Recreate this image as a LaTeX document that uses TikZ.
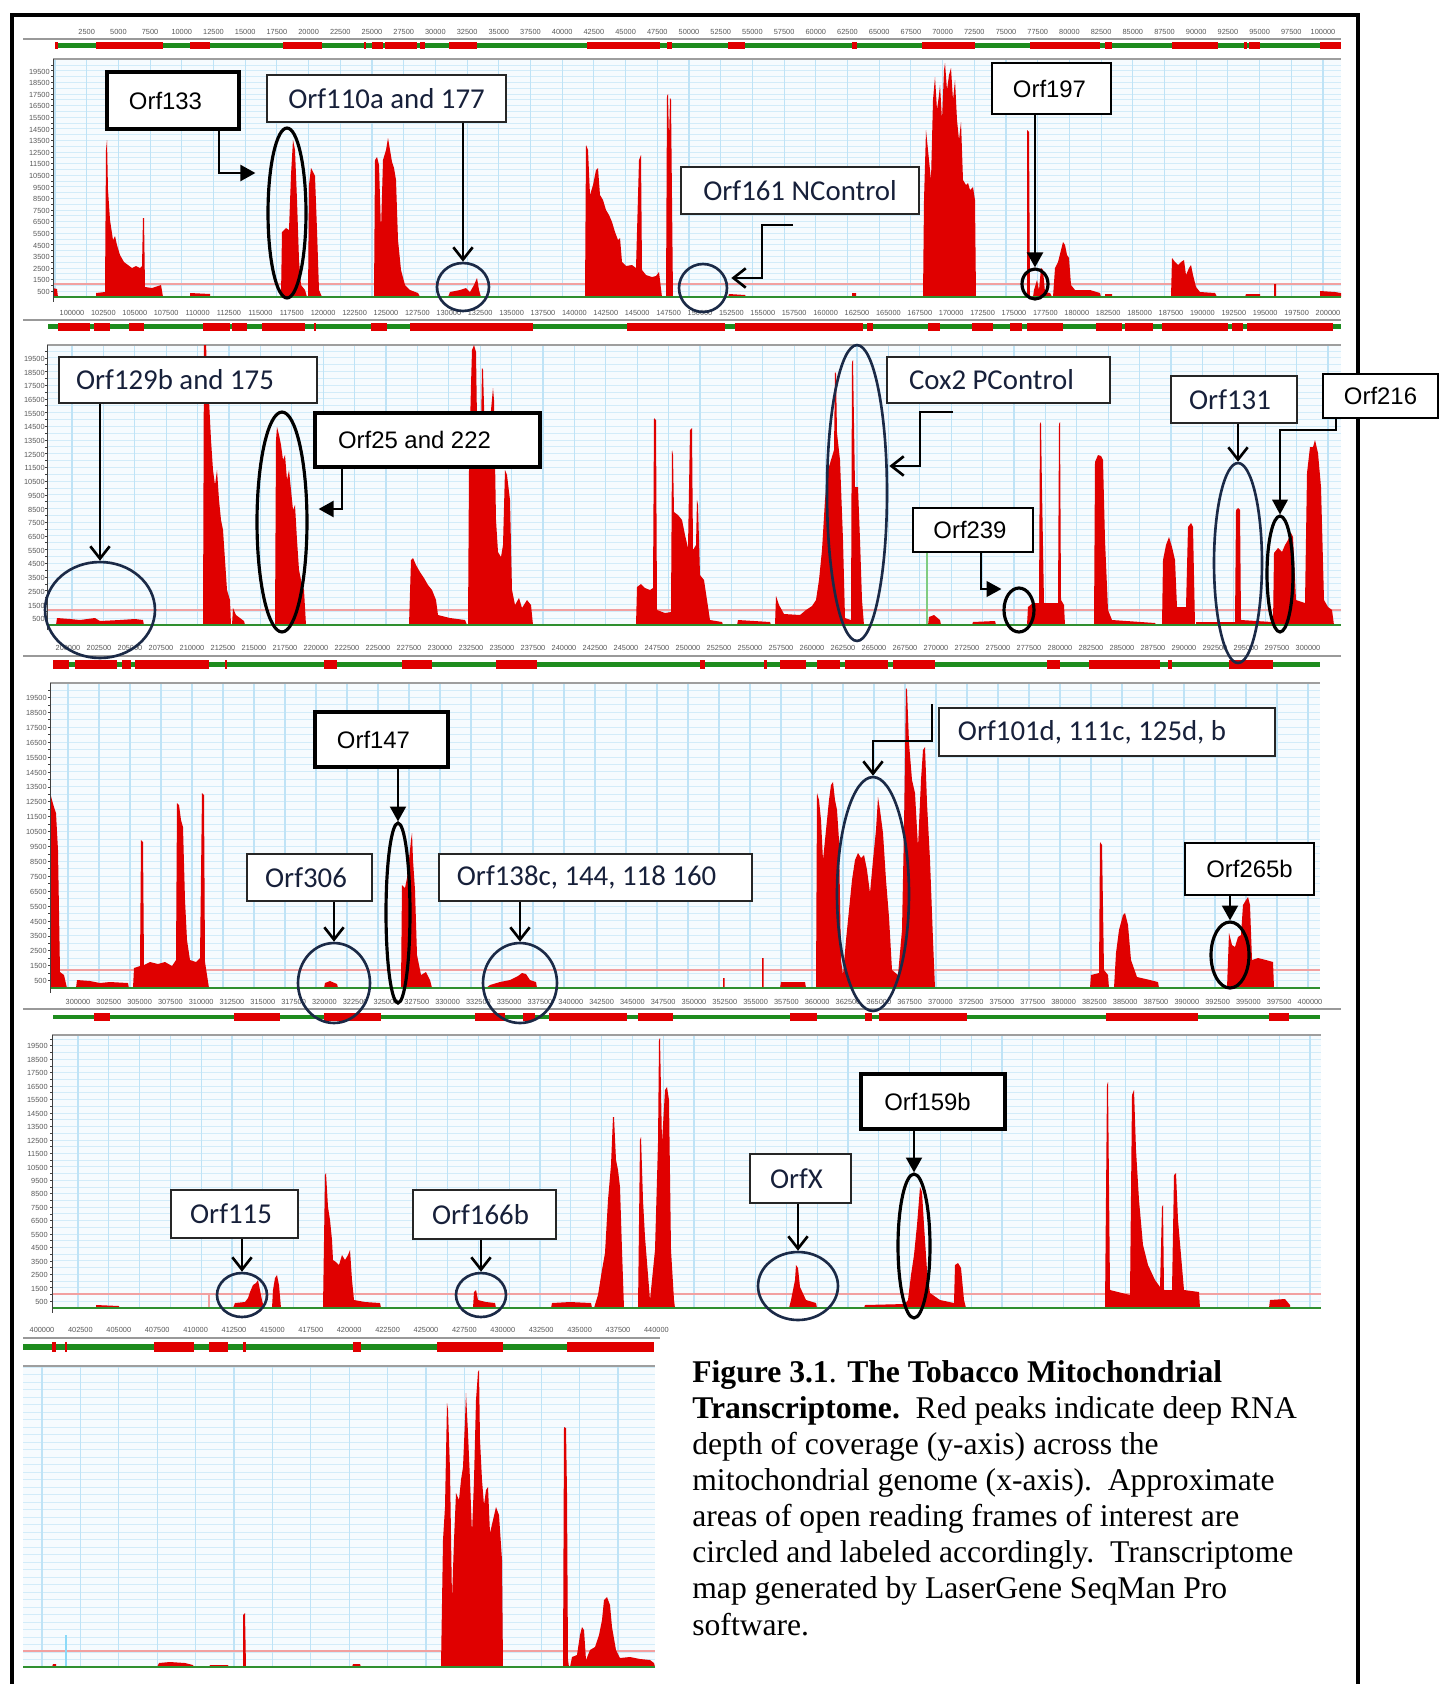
\documentclass[tikz,border=0pt]{standalone}
\usepackage{fontspec}
\setmainfont{Liberation Serif}
\newfontfamily\fArial{Liberation Sans}
\newfontfamily\fCal{Carlito}
\usetikzlibrary{shapes.geometric,arrows.meta,calc}
\newdimen\pxu \pxu=0.02cm
\newcommand{\lft}[2]{#2\hspace*{#1\pxu}\hspace*{#1\pxu}}
\definecolor{pkred}{HTML}{E00000}
\definecolor{navyc}{HTML}{1B2A47}
\definecolor{ctext}{HTML}{17203A}
\definecolor{bargreen}{HTML}{1E8C1E}
\definecolor{basegreen}{HTML}{2F8F2F}
\definecolor{hgridc}{HTML}{D3ECF9}
\definecolor{vgridc}{HTML}{BFE3F6}
\definecolor{chartbgc}{HTML}{F6FBFE}
\definecolor{threshc}{HTML}{F2A0A0}
\tikzset{
  pk/.style={fill=pkred},
  hgrid/.style={draw=hgridc, line width=0.55pt},
  vgrid/.style={draw=vgridc, line width=0.6pt},
  ruler/.style={draw=black!40, line width=1.1pt},
  tk/.style={font=\fArial\fontsize{4.2}{5}\selectfont, text=black!65, inner sep=0pt},
  sz/.style 2 args={minimum width=#1*0.02cm, minimum height=#2*0.02cm},
  el/.style 2 args={ellipse, minimum width=#1*0.04cm, minimum height=#2*0.04cm, inner sep=0pt},
  bxA/.style={draw=black, line width=#1, fill=white, inner sep=0pt, font=\fArial\fontsize{13.6}{16}\selectfont},
  bxC/.style={draw=black!85, line width=0.9pt, fill=white, inner sep=0pt, text=ctext, font=\fCal\fontsize{16.4}{19}\selectfont},
  ovk/.style={draw=black, line width=1.8pt},
  ovn/.style={draw=navyc, line width=1.5pt},
  conn/.style={draw=black, line width=1.5pt},
  tipT/.style={-{Triangle[length=8.5pt,width=9pt]}},
  tipV/.style={-{Straight Barb[length=7pt,width=11pt]}},
  captxt/.style={anchor=base west, inner sep=0pt, font=\fontsize{18}{21.7}\selectfont}
}
% x0 y0 x1 base hstep red vstart vstep
\newcommand{\panelbg}[8]{%
  \fill[chartbgc] (#1,#2) rectangle (#3,#4);
  \begin{scope}
    \clip (#1,#2) rectangle (#3,#4);
    \foreach \i in {1,...,41} \draw[hgrid] (#1,{#4-#5*\i}) -- (#3,{#4-#5*\i});
    \foreach \k in {0,...,41} \draw[vgrid] ({#7+#8*\k},#2) -- ({#7+#8*\k},#4);
  \end{scope}
  \draw[draw=black!38, line width=1.1pt] (#1,#2) -- (#3,#2);
  \draw[draw=threshc, line width=0.7pt] (#1,#6) -- (#3,#6);
}
\newcommand{\panelaxis}[4]{%
  \draw[draw=basegreen, line width=1pt] (#1,#3) -- (#2,#3);
}
\newcommand{\yaxis}[5]{% x0 y0 base step xlabel
  \draw[draw=black!75, line width=0.5pt] (#1,#2) -- (#1,{#3+5});
  \foreach \i in {1,...,40} \draw[draw=black!75, line width=0.4pt] (#1,{#3-#4*\i/2}) -- ({#1-2.5},{#3-#4*\i/2});
}
\begin{document}
\begin{tikzpicture}[x=0.02cm,y=-0.02cm]
\useasboundingbox (0,0) rectangle (1440,1684);
\fill[white] (0,0) rectangle (1440,1684);

% ---------------- Panel 1 ----------------
\panelbg{53}{59}{1341}{297}{5.8}{284}{55}{31.7}
\def\BL{297}
\begin{scope}
\clip (53,59) rectangle (1341,298);
\fill[pk] (53,\BL)--(53,288)--(57,289)--(58,\BL)--cycle
(96,\BL)--(96,293)--(105,292)--(106,150)--(107,140)--(108,190)--(110,220)--(113,240)--(115,236)--(117,245)--(120,255)--(124,262)--(128,265)--(132,268)--(136,266)--(140,268)--(142,266)--(143,218)--(144,218)--(145,287)--(152,288)--(158,286)--(161,285)--(163,\BL)--cycle
(190,\BL)--(190,293)--(210,294)--(210,\BL)--cycle
(281,\BL)--(282,232)--(286,228)--(289,230)--(291,175)--(293,140)--(295,150)--(297,200)--(299,260)--(301,285)--(305,290)--(307,\BL)--cycle
(308,\BL)--(309,185)--(311,168)--(313,172)--(315,176)--(317,230)--(319,290)--(322,\BL)--cycle
(374,\BL)--(375,160)--(377,157)--(379,165)--(381,230)--(383,160)--(386,150)--(388,138)--(390,150)--(392,162)--(394,168)--(396,180)--(398,240)--(401,270)--(405,285)--(410,290)--(418,293)--(420,\BL)--cycle
(448,\BL)--(450,292)--(460,290)--(466,288)--(470,292)--(474,285)--(477,278)--(479,290)--(481,\BL)--cycle
(585,\BL)--(586,145)--(588,150)--(590,195)--(593,185)--(596,170)--(598,168)--(600,195)--(603,200)--(606,210)--(609,215)--(612,222)--(615,232)--(618,240)--(620,238)--(622,262)--(626,266)--(632,265)--(636,268)--(639,160)--(641,155)--(642,270)--(646,275)--(652,277)--(656,276)--(659,272)--(662,\BL)--cycle
(666,\BL)--(667,96)--(668,94)--(669,140)--(670,98)--(671,100)--(673,\BL)--cycle
(728,\BL)--(729,294)--(745,295)--(746,\BL)--cycle
(852,\BL)--(852,293)--(856,293)--(856,\BL)--cycle
(923,\BL)--(924,200)--(926,130)--(928,150)--(931,180)--(933,100)--(935,77)--(937,110)--(939,95)--(940,85)--(942,120)--(944,70)--(945,63)--(947,90)--(949,75)--(951,68)--(953,100)--(955,80)--(957,120)--(959,140)--(961,122)--(963,180)--(966,185)--(968,183)--(970,190)--(973,187)--(975,200)--(976,\BL)--cycle
(1027,\BL)--(1027,130)--(1029,132)--(1030,\BL)--cycle
(1033,\BL)--(1034,290)--(1037,280)--(1039,290)--(1041,268)--(1043,270)--(1045,292)--(1050,293)--(1052,\BL)--cycle
(1053,\BL)--(1055,268)--(1058,262)--(1061,250)--(1063,242)--(1065,245)--(1067,255)--(1069,258)--(1071,285)--(1075,290)--(1090,290)--(1100,293)--(1101,\BL)--cycle
(1105,\BL)--(1105,294)--(1112,294)--(1112,\BL)--cycle
(1171,\BL)--(1172,258)--(1175,262)--(1178,265)--(1181,262)--(1184,260)--(1186,275)--(1189,268)--(1191,265)--(1193,275)--(1196,287)--(1200,292)--(1215,293)--(1217,\BL)--cycle
(1245,\BL)--(1246,294)--(1260,294)--(1260,\BL)--cycle
(1274,\BL)--(1274,284)--(1276,284)--(1276,\BL)--cycle
(1320,\BL)--(1320,291)--(1335,292)--(1341,293)--(1341,\BL)--cycle;
\end{scope}
\panelaxis{53}{1341}{297}{59}
\yaxis{53}{59}{297}{11.6}{50}
\foreach \k in {0,...,19} \node[tk, anchor=east] (ya\k) at (50,{297.8-11.6*(\k+0.5)}) {\the\numexpr500+1000*\k\relax};

% ---------------- Panel 2 ----------------
\panelbg{47}{345}{1341}{625}{6.85}{610}{72}{31.4}
\def\BL{625}
\begin{scope}
\clip (47,345) rectangle (1341,626);
\fill[pk] (56,\BL)--(57,618)--(70,619)--(80,620)--(95,618)--(100,621)--(120,620)--(135,619)--(143,620)--(144,\BL)--cycle
(203,\BL)--(204,340)--(206,340)--(207,380)--(209,400)--(211,440)--(213,470)--(215,485)--(217,470)--(219,500)--(221,520)--(223,530)--(225,560)--(227,590)--(230,600)--(231,\BL)--cycle
(232,\BL)--(233,608)--(236,615)--(244,621)--(245,\BL)--cycle
(275,\BL)--(276,440)--(277,427)--(279,435)--(281,445)--(283,460)--(285,455)--(287,480)--(289,470)--(291,490)--(293,510)--(295,505)--(297,540)--(299,570)--(302,585)--(304,590)--(306,\BL)--cycle
(409,\BL)--(411,560)--(413,558)--(416,565)--(420,572)--(424,578)--(428,585)--(432,590)--(436,600)--(438,615)--(450,618)--(465,620)--(467,\BL)--cycle
(468,\BL)--(469,470)--(471,385)--(472,350)--(474,345)--(476,352)--(477,420)--(479,440)--(481,430)--(482,368)--(483,370)--(485,440)--(487,470)--(489,440)--(491,410)--(493,388)--(494,400)--(496,520)--(498,552)--(501,557)--(503,545)--(505,470)--(507,475)--(510,500)--(512,590)--(515,605)--(519,598)--(522,608)--(527,600)--(531,605)--(533,\BL)--cycle
(636,\BL)--(637,587)--(641,584)--(645,588)--(650,590)--(653,588)--(654,418)--(656,420)--(657,610)--(665,613)--(671,612)--(672,450)--(673,455)--(674,512)--(678,515)--(682,520)--(685,535)--(688,548)--(690,430)--(692,428)--(693,550)--(696,545)--(697,500)--(698,505)--(700,575)--(704,580)--(707,600)--(710,620)--(722,622)--(723,\BL)--cycle
(737,\BL)--(738,620)--(770,622)--(771,\BL)--cycle
(775,\BL)--(776,596)--(779,605)--(784,614)--(800,615)--(806,610)--(812,606)--(816,600)--(819,580)--(822,550)--(825,500)--(828,470)--(831,460)--(834,450)--(835,372)--(836,374)--(837,433)--(840,460)--(843,540)--(845,618)--(851,620)--(852,362)--(853,360)--(855,487)--(858,487)--(860,540)--(862,600)--(864,\BL)--cycle
(928,\BL)--(929,617)--(934,615)--(940,620)--(941,\BL)--cycle
(972,\BL)--(973,622)--(995,621)--(996,\BL)--cycle
(1027,\BL)--(1028,607)--(1033,603)--(1039,603)--(1040,422)--(1041,424)--(1042,490)--(1044,603)--(1058,603)--(1059,424)--(1060,422)--(1061,600)--(1064,605)--(1065,\BL)--cycle
(1094,\BL)--(1095,462)--(1098,455)--(1101,456)--(1103,460)--(1105,540)--(1108,610)--(1112,620)--(1155,623)--(1156,\BL)--cycle
(1162,\BL)--(1163,560)--(1166,545)--(1169,537)--(1172,547)--(1175,560)--(1177,607)--(1186,607)--(1188,527)--(1191,523)--(1193,527)--(1195,\BL)--cycle
(1196,\BL)--(1196,622)--(1235,622)--(1236,510)--(1238,508)--(1240,510)--(1241,620)--(1272,622)--(1273,\BL)--cycle
(1273,\BL)--(1274,553)--(1278,548)--(1282,552)--(1285,545)--(1288,540)--(1291,533)--(1293,537)--(1296,600)--(1305,603)--(1307,473)--(1310,447)--(1313,447)--(1315,440)--(1318,453)--(1321,487)--(1324,600)--(1328,607)--(1332,610)--(1334,\BL)--cycle;
\end{scope}
\draw[draw=green!60!black!50, line width=0.6pt] (927,553) -- (927,625);
\panelaxis{47}{1341}{625}{345}
\yaxis{47}{345}{625}{13.7}{45}
\foreach \k in {0,...,19} \node[tk, anchor=east] (yb\k) at (45,{626-13.7*(\k+0.5)}) {\the\numexpr500+1000*\k\relax};

% ---------------- Panel 3 ----------------
\panelbg{50}{683}{1320}{988}{7.45}{970}{68}{31}
\def\BL{988}
\begin{scope}
\clip (50,683) rectangle (1320,989);
\fill[pk] (50,\BL)--(50,792)--(52,800)--(54,807)--(56,813)--(58,850)--(60,972)--(64,975)--(67,\BL)--cycle
(76,\BL)--(77,980)--(90,981)--(100,983)--(110,982)--(128,983)--(129,\BL)--cycle
(133,\BL)--(134,968)--(140,966)--(141,840)--(143,842)--(144,965)--(150,962)--(158,964)--(165,962)--(172,966)--(176,960)--(177,803)--(179,805)--(181,820)--(183,827)--(185,900)--(187,940)--(190,960)--(196,962)--(200,958)--(202,793)--(204,795)--(205,962)--(209,\BL)--cycle
(324,\BL)--(325,983)--(330,981)--(337,984)--(338,\BL)--cycle
(401,\BL)--(402,885)--(405,888)--(407,878)--(409,860)--(411,840)--(412,833)--(413,860)--(415,890)--(417,955)--(421,975)--(426,972)--(430,980)--(432,\BL)--cycle
(486,\BL)--(490,985)--(500,982)--(510,980)--(518,976)--(522,973)--(526,974)--(530,980)--(536,982)--(537,\BL)--cycle
(723,\BL)--(723,978)--(724.5,978)--(724.5,\BL)--cycle
(762,\BL)--(762,958)--(763.5,958)--(763.5,\BL)--cycle
(780,\BL)--(781,982)--(805,982)--(806,\BL)--cycle
(816,\BL)--(817,793)--(819,800)--(821,820)--(823,860)--(826,830)--(829,800)--(831,785)--(833,782)--(835,800)--(837,810)--(839,840)--(841,960)--(843,975)--(846,940)--(849,910)--(852,880)--(855,860)--(858,853)--(861,858)--(864,855)--(867,870)--(870,893)--(873,860)--(876,830)--(878,797)--(880,810)--(883,833)--(886,880)--(889,917)--(892,970)--(898,975)--(902,930)--(904,827)--(906,688)--(907,690)--(909,743)--(912,780)--(915,793)--(918,847)--(921,780)--(923,750)--(925,747)--(927,803)--(930,860)--(933,940)--(935,\BL)--cycle
(1090,\BL)--(1091,975)--(1099,973)--(1100,842)--(1102,845)--(1104,970)--(1108,975)--(1109,\BL)--cycle
(1114,\BL)--(1116,953)--(1119,930)--(1123,915)--(1125,913)--(1128,925)--(1131,960)--(1137,977)--(1150,980)--(1158,982)--(1159,\BL)--cycle
(1227,\BL)--(1229,933)--(1232,945)--(1235,947)--(1238,937)--(1241,935)--(1243,905)--(1246,900)--(1248,897)--(1250,905)--(1252,960)--(1258,958)--(1266,960)--(1273,962)--(1274,\BL)--cycle;
\end{scope}
\panelaxis{50}{1320}{988}{683}
\yaxis{50}{683}{988}{14.9}{47}
\foreach \k in {0,...,19} \node[tk, anchor=east] (yc\k) at (47,{988.5-14.9*(\k+0.5)}) {\the\numexpr500+1000*\k\relax};

% ---------------- Panel 4 ----------------
\panelbg{52}{1035}{1321}{1308}{6.72}{1294}{78}{30.8}
\def\BL{1308}
\begin{scope}
\clip (52,1035) rectangle (1321,1309);
\fill[pk] (96,\BL)--(96,1305)--(119,1306)--(119,\BL)--cycle
(233,\BL)--(235,1303)--(245,1302)--(248,1298)--(250,1292)--(253,1285)--(256,1283)--(258,1280)--(260,1290)--(262,1300)--(264,\BL)--cycle
(272,\BL)--(273,1290)--(275,1278)--(277,1275)--(279,1285)--(281,\BL)--cycle
(323,\BL)--(325,1175)--(326,1173)--(328,1207)--(330,1220)--(332,1240)--(333,1260)--(336,1262)--(339,1265)--(342,1255)--(345,1260)--(348,1255)--(350,1250)--(352,1280)--(354,1300)--(365,1302)--(380,1303)--(381,\BL)--cycle
(473,\BL)--(474,1292)--(476,1290)--(478,1300)--(486,1302)--(495,1303)--(496,\BL)--cycle
(551,\BL)--(552,1303)--(570,1302)--(591,1303)--(592,\BL)--cycle
(594,\BL)--(598,1295)--(602,1270)--(605,1253)--(608,1200)--(611,1165)--(613,1117)--(614,1117)--(616,1160)--(618,1170)--(620,1187)--(622,1250)--(624,\BL)--cycle
(638,\BL)--(640,1140)--(641,1137)--(643,1200)--(645,1237)--(650,1300)--(655,1250)--(658,1143)--(659,1040)--(660,1038)--(662,1143)--(665,1090)--(667,1087)--(669,1100)--(671,1250)--(674,1300)--(675,\BL)--cycle
(789,\BL)--(791,1300)--(795,1280)--(796,1265)--(798,1268)--(800,1287)--(806,1300)--(816,1303)--(817,\BL)--cycle
(864,\BL)--(865,1305)--(905,1304)--(908,1300)--(911,1275)--(914,1255)--(917,1225)--(919,1200)--(920,1187)--(922,1192)--(924,1225)--(927,1270)--(930,1293)--(940,1300)--(954,1303)--(955,1265)--(958,1263)--(961,1268)--(964,1300)--(966,\BL)--cycle
(1105,\BL)--(1107,1085)--(1108,1082)--(1110,1290)--(1130,1295)--(1132,1095)--(1134,1090)--(1136,1150)--(1139,1200)--(1143,1245)--(1148,1265)--(1155,1280)--(1160,1287)--(1162,1207)--(1163,1205)--(1164,1290)--(1172,1290)--(1174,1175)--(1176,1173)--(1178,1220)--(1181,1255)--(1184,1290)--(1199,1292)--(1200,\BL)--cycle
(1269,\BL)--(1270,1300)--(1285,1299)--(1290,1305)--(1290,\BL)--cycle;
\end{scope}
\draw[draw=threshc, line width=0.7pt] (209,1294) -- (209,1308);
\panelaxis{52}{1321}{1308}{1035}
\yaxis{52}{1035}{1308}{13.45}{47}
\foreach \k in {0,...,19} \node[tk, anchor=east] (yd\k) at (48,{1308.7-13.45*(\k+0.5)}) {\the\numexpr500+1000*\k\relax};

% ---------------- Panel 5 ----------------
\panelbg{23}{1366}{655}{1667}{7.5}{1651}{42}{38.4}
\def\BL{1667}
\begin{scope}
\clip (23,1366) rectangle (655,1668);
\fill[pk] (52,\BL)--(53,1664)--(56,1664)--(56,\BL)--cycle
(157,\BL)--(159,1663)--(170,1662)--(185,1663)--(193,1665)--(194,\BL)--cycle
(209,\BL)--(210,1665)--(228,1665)--(229,\BL)--cycle
(243,\BL)--(243,1615)--(245,1613)--(246,\BL)--cycle
(352,\BL)--(353,1664)--(360,1664)--(361,\BL)--cycle
(441,\BL)--(443,1540)--(445,1507)--(447,1403)--(448,1410)--(450,1470)--(452,1600)--(454,1540)--(456,1493)--(459,1500)--(461,1480)--(463,1467)--(465,1420)--(466,1393)--(468,1433)--(470,1480)--(472,1533)--(474,1480)--(476,1400)--(478,1372)--(479,1370)--(480,1440)--(482,1480)--(484,1505)--(486,1490)--(488,1487)--(490,1533)--(493,1520)--(496,1507)--(499,1515)--(502,1560)--(503,\BL)--cycle
(563,\BL)--(564,1427)--(566,1428)--(567,1493)--(568,1660)--(569,\BL)--cycle
(570,\BL)--(572,1657)--(577,1655)--(580,1635)--(582,1627)--(584,1630)--(586,1660)--(590,1650)--(595,1647)--(599,1635)--(602,1620)--(604,1600)--(607,1597)--(610,1605)--(612,1627)--(616,1650)--(620,1658)--(630,1657)--(640,1659)--(650,1660)--(654,1663)--(655,\BL)--cycle;
\end{scope}
\draw[draw=cyan!45, line width=0.8pt] (66,1635) -- (66,1667);
\panelaxis{23}{655}{1667}{1366}

% ---------------- Rulers and feature bars ----------------
\draw[ruler] (23,39) -- (1341,39);
\draw[ruler] (23,320) -- (1341,320);
\draw[ruler] (23,656) -- (1341,656);
\draw[ruler] (23,1009) -- (1341,1009);
\draw[ruler] (23,1338) -- (660,1338);

\fill[bargreen] (55,43) rectangle (1341,47.5);
\foreach \p/\q in {55/58,96/163,190/210,283/322,364/366,372/383,385/417,420/425,449/477,587/660,667/672,728/745,852/857,922/975,1030/1100,1105/1112,1172/1218,1244/1247,1249/1260,1320/1341}
  \fill[pkred] (\p,42) rectangle (\q,49);
\fill[bargreen] (48,324) rectangle (1341,329);
\foreach \p/\q in {58/90,94/110,129/144,203/230,232/247,262/305,314/316,371/387,410/533,627/725,735/863,867/873,928/940,972/993,1010/1022,1027/1063,1096/1122,1125/1153,1162/1228,1232/1243,1247/1333}
  \fill[pkred] (\p,323) rectangle (\q,331);
\fill[bargreen] (53,662) rectangle (1320,667);
\foreach \p/\q in {53/69,75/117,122/131,135/209,225/227,324/337,402/432,496/537,700/705,764/767,780/806,817/840,845/888,893/935,1047/1060,1089/1160,1168/1172,1229/1273}
  \fill[pkred] (\p,660) rectangle (\q,669);
\fill[bargreen] (53,1015) rectangle (1320,1019);
\foreach \p/\q in {94/110,234/280,324/381,475/505,523/535,549/627,638/673,790/817,865/872,879/967,1106/1198,1269/1289}
  \fill[pkred] (\p,1013) rectangle (\q,1021);
\fill[bargreen] (23,1344) rectangle (654,1350);
\foreach \p/\q in {52/56,65/67,154/194,209/228,243/246,353/361,437/503,567/654}
  \fill[pkred] (\p,1342) rectangle (\q,1352);

% ruler labels
\foreach \k in {1,...,40} \node[tk] (ra\k) at ({55+31.7*\k},32) {\the\numexpr2500*\k\relax};
\foreach \k in {0,...,40} \node[tk] (rb\k) at ({72+31.4*\k},313) {\the\numexpr100000+2500*\k\relax};
\foreach \k in {0,...,40} \node[tk] (rc\k) at ({68+31*\k},648) {\the\numexpr200000+2500*\k\relax};
\foreach \k in {0,...,40} \node[tk] (rd\k) at ({78+30.8*\k},1002) {\the\numexpr300000+2500*\k\relax};
\foreach \k in {0,...,16} \node[tk] (re\k) at ({42+38.4*\k},1330) {\the\numexpr400000+2500*\k\relax};

% ---------------- Frame ----------------
\draw[line width=2.3pt] (12,1700) -- (12,15) -- (1358,15) -- (1358,1700);

% ---------------- Ellipses ----------------
\node[ovk, el={19}{85}] (e1) at (287,213) {};
\node[ovn, el={26}{24}] (e2) at (463,287) {};
\node[ovn, el={24}{24}] (e3) at (703,288) {};
\node[ovk, el={13}{15}] (e4) at (1035,284) {};
\node[ovn, el={55}{48}] (e5) at (100,610) {};
\node[ovk, el={25}{110}] (e6) at (282,522) {};
\node[ovn, el={30}{148}] (e7) at (857,493) {};
\node[ovk, el={15}{22}] (e8) at (1019,610) {};
\node[ovn, el={24}{100}] (e9) at (1238,563) {};
\node[ovk, el={13}{58}] (e10) at (1280,574) {};
\node[ovk, el={12}{90}] (e11) at (398,913) {};
\node[ovn, el={36}{40}] (e12) at (334,983) {};
\node[ovn, el={37}{40}] (e13) at (520,983) {};
\node[ovn, el={36}{117}] (e14) at (873,894) {};
\node[ovk, el={19}{33}] (e15) at (1230,955) {};
\node[ovn, el={25}{22}] (e16) at (242,1295) {};
\node[ovn, el={25}{22}] (e17) at (481,1295) {};
\node[ovn, el={40}{34}] (e18) at (798,1286) {};
\node[ovk, el={16}{72}] (e19) at (914,1246) {};

% ---------------- Label boxes ----------------
\node[bxA=1.9pt, sz={132}{57}] (b1) at (173,100.5) {\lft{7.5}{Orf133}};
\node[bxC, sz={239}{47}] (b2) at (386.5,98.5) {Orf110a and 177};
\node[bxC, sz={238}{47}] (b3) at (800,190.5) {Orf161 NControl};
\node[bxA=1.4pt, sz={119}{51}] (b4) at (1051.5,88.5) {\lft{2}{Orf197}};
\node[bxC, sz={258}{46}] (b5) at (188,380) {\lft{13}{Orf129b and 175}};
\node[bxA=1.9pt, sz={225}{54}] (b6) at (427.5,440) {\lft{13}{Orf25 and 222}};
\node[bxC, sz={223}{46}] (b7) at (998.5,380) {\lft{7}{Cox2 PControl}};
\node[bxA=1.2pt, sz={120}{44}] (b8) at (973,530) {\lft{3}{Orf239}};
\node[bxC, sz={126}{47}] (b9) at (1234,399.5) {\lft{4}{Orf131}};
\node[bxA=1.4pt, sz={115}{44}] (b10) at (1380.5,396) {Orf216};
\node[bxA=2.1pt, sz={133}{55}] (b11) at (381.5,739.5) {\lft{8}{Orf147}};
\node[bxC, sz={125}{47}] (b12) at (309.5,877.5) {\lft{3.5}{Orf306}};
\node[bxC, sz={313}{47}] (b13) at (595.5,877.5) {\lft{9}{Orf138c, 144, 118 160}};
\node[bxC, sz={336}{48}] (b14) at (1107,732) {\lft{15}{Orf101d, 111c, 125d, b}};
\node[bxA=1.2pt, sz={129}{52}] (b15) at (1249.5,869) {Orf265b};
\node[bxC, sz={127}{48}] (b16) at (234.5,1214) {\lft{3.5}{Orf115}};
\node[bxC, sz={143}{49}] (b17) at (484.5,1214.5) {\lft{4}{Orf166b}};
\node[bxC, sz={101}{49}] (b18) at (800.5,1178.5) {\lft{4}{OrfX}};
\node[bxA=2.1pt, sz={144}{55}] (b19) at (933,1101.5) {\lft{5.5}{Orf159b}};

% ---------------- Connectors ----------------
\coordinate (k3) at (793,225);
\coordinate (k7) at (953,412);
\coordinate (k14) at (932,704);
\draw[conn, tipT] ($(b1.south)+(46,0)$) |- ($(e1.west)+(-11,-40)$);
\draw[conn, tipV] (b2.south -| e2.north) -- (e2.north);
\draw[conn, tipV] (k3) -- ++(-31,0) |- ($(e3.east)+(3,-10)$);
\draw[conn, tipT] (b4.south -| e4.north) -- (e4.north);
\draw[conn, tipV] (b5.south -| e5.north) -- (e5.north);
\draw[conn, tipT] ($(b6.south)+(-85.5,0)$) |- ($(e6.east)+(10,-13)$);
\draw[conn, tipV] (k7) -- ++(-33,0) |- ($(e7.east)+(1,-27)$);
\draw[conn, line width=1.1pt, tipT] ($(b8.south)+(8,0)$) |- ($(e8.west)+(-1,-21)$);
\draw[conn, tipV] (b9.south -| e9.north) -- (e9.north);
\draw[conn, line width=0.9pt, tipT] ($(b10.south)+(-44.5,0)$) -- ++(0,11) -| (e10.north);
\draw[conn, tipT] (b11.south -| e11.north) -- (e11.north);
\draw[conn, tipV] (b12.south -| e12.north) -- (e12.north);
\draw[conn, tipV] (b13.south -| e13.north) -- (e13.north);
\draw[conn, tipV] (k14) -- ++(0,37) -| (e14.north);
\draw[conn, tipT] (b15.south -| e15.north) -- (e15.north);
\draw[conn, tipV] (b16.south -| e16.north) -- (e16.north);
\draw[conn, tipV] (b17.south -| e17.north) -- (e17.north);
\draw[conn, tipV] (b18.south -| e18.north) -- (e18.north);
\draw[conn, tipT] (b19.south -| e19.north) -- (e19.north);

% ---------------- Caption ----------------
\node[captxt] (cap1) at (692,1382) {\textbf{Figure 3.1}. \textbf{The Tobacco Mitochondrial}};
\node[captxt] (cap2) at (692,1418) {\textbf{Transcriptome.}\ \ Red peaks indicate deep RNA};
\node[captxt] (cap3) at (692,1454) {depth of coverage (y-axis) across the};
\node[captxt] (cap4) at (692,1490) {mitochondrial genome (x-axis).\ \ Approximate};
\node[captxt] (cap5) at (692,1526) {areas of open reading frames of interest are};
\node[captxt] (cap6) at (692,1562) {circled and labeled accordingly.\ \ Transcriptome};
\node[captxt] (cap7) at (692,1598) {map generated by LaserGene SeqMan Pro};
\node[captxt] (cap8) at (692,1635) {software.};
\end{tikzpicture}
\end{document}
